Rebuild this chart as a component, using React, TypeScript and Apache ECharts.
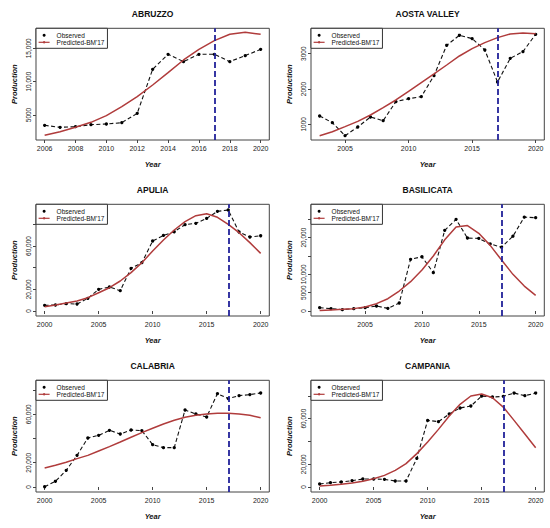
import React, { useEffect, useRef } from "react";
import * as echarts from "echarts";

const FONT = "'Liberation Sans', Arial, sans-serif";

// ---------- data ----------
const abruzzoYears = [2006, 2007, 2008, 2009, 2010, 2011, 2012, 2013, 2014, 2015, 2016, 2017, 2018, 2019, 2020];
const abruzzoObserved = [3450, 3150, 3250, 3550, 3650, 3850, 5250, 11850, 14100, 13000, 14100, 14100, 13000, 13900, 14850];
const abruzzoPredicted = [1950, 2500, 3150, 3900, 4900, 6250, 7750, 9500, 11350, 13250, 14850, 16150, 17100, 17400, 17100];

const aostaYears = [2003, 2004, 2005, 2006, 2007, 2008, 2009, 2010, 2011, 2012, 2013, 2014, 2015, 2016, 2017, 2018, 2019, 2020];
const aostaObserved = [1236, 1047, 679, 925, 1208, 1104, 1642, 1726, 1783, 2377, 3236, 3519, 3425, 3104, 2198, 2868, 3057, 3547];
const aostaPredicted = [679, 792, 934, 1085, 1264, 1472, 1689, 1934, 2179, 2425, 2679, 2934, 3142, 3311, 3453, 3557, 3585, 3566];

const apuliaYears = [2000, 2001, 2002, 2003, 2004, 2005, 2006, 2007, 2008, 2009, 2010, 2011, 2012, 2013, 2014, 2015, 2016, 2017, 2018, 2019, 2020];
const apuliaObserved = [5230, 5540, 6770, 6460, 11700, 20000, 22150, 18770, 39400, 44600, 64600, 69800, 73200, 79700, 80900, 85500, 92000, 93200, 72900, 68300, 69500];
const apuliaPredicted = [4000, 5540, 7400, 9230, 12300, 16900, 21500, 27700, 35400, 44600, 55400, 65500, 74800, 82500, 88000, 89800, 86500, 80000, 72300, 63100, 53200];

const basilicataYears = [2001, 2002, 2003, 2004, 2005, 2006, 2007, 2008, 2009, 2010, 2011, 2012, 2013, 2014, 2015, 2016, 2017, 2018, 2019, 2020];
const basilicataObserved = [909, 636, 364, 636, 909, 1364, 727, 2180, 14100, 14800, 10450, 22000, 25000, 19900, 19800, 18300, 17400, 20400, 25600, 25450];
const basilicataPredicted = [150, 300, 450, 650, 1100, 2000, 3360, 5450, 8000, 11200, 15000, 19400, 22900, 23300, 21200, 17900, 13900, 10000, 6800, 4270];

const calabriaYears = [2000, 2001, 2002, 2003, 2004, 2005, 2006, 2007, 2008, 2009, 2010, 2011, 2012, 2013, 2014, 2015, 2016, 2017, 2018, 2019, 2020];
const calabriaObserved = [200, 4700, 13750, 26100, 40400, 42600, 46750, 43700, 47000, 46500, 34900, 32450, 32450, 63500, 60200, 57750, 77000, 72900, 75350, 76200, 77550];
const calabriaPredicted = [15700, 17900, 20350, 23400, 26100, 29700, 33300, 37100, 41000, 44800, 48400, 52000, 55000, 57500, 59100, 60200, 60800, 60800, 60200, 59100, 57200];

const campaniaYears = [2000, 2001, 2002, 2003, 2004, 2005, 2006, 2007, 2008, 2009, 2010, 2011, 2012, 2013, 2014, 2015, 2016, 2017, 2018, 2019, 2020];
const campaniaObserved = [2630, 3800, 4390, 5560, 7020, 7020, 6730, 5270, 5270, 25200, 58500, 57400, 64100, 69400, 71100, 79900, 79000, 79600, 82500, 80200, 82500];
const campaniaPredicted = [880, 1460, 2340, 3500, 5000, 7300, 10200, 14600, 20500, 29300, 39500, 50600, 62300, 72600, 79900, 81700, 78400, 70200, 58500, 46500, 34500];

const splitYear = 2017;

const titles = ["ABRUZZO", "AOSTA VALLEY", "APULIA", "BASILICATA", "CALABRIA", "CAMPANIA"];
const xTicks2 = [2006, 2008, 2010, 2012, 2014, 2016, 2018, 2020];
const xTicks5a = [2005, 2010, 2015, 2020];
const xTicks5b = [2000, 2005, 2010, 2015, 2020];
const yTicksAbruzzo = [5000, 10000, 15000];
const yTicksAosta = [1000, 2000, 3000];
const yTicks20k = [0, 20000, 40000, 60000, 80000];
const yLabels20k = [0, 20000, 60000];
const yTicksBasilicata = [0, 5000, 10000, 15000, 20000, 25000];
const yLabelsBasilicata = [0, 5000, 10000, 20000];

// axis extents
const xRanges = [
  [2005.44, 2020.56],
  [2002.32, 2020.68],
  [1999.2, 2020.8],
  [2000.24, 2020.76],
  [1999.2, 2020.8],
  [1999.2, 2020.8],
];
const yRanges = [
  [1250, 18000],
  [557, 3717],
  [-4600, 98500],
  [-1360, 29100],
  [-4125, 88000],
  [-4390, 93700],
];

const panels = [
  { years: abruzzoYears, obs: abruzzoObserved, pred: abruzzoPredicted, xt: xTicks2, yt: yTicksAbruzzo, yl: yTicksAbruzzo },
  { years: aostaYears, obs: aostaObserved, pred: aostaPredicted, xt: xTicks5a, yt: yTicksAosta, yl: yTicksAosta },
  { years: apuliaYears, obs: apuliaObserved, pred: apuliaPredicted, xt: xTicks5b, yt: yTicks20k, yl: yLabels20k },
  { years: basilicataYears, obs: basilicataObserved, pred: basilicataPredicted, xt: xTicks5a, yt: yTicksBasilicata, yl: yLabelsBasilicata },
  { years: calabriaYears, obs: calabriaObserved, pred: calabriaPredicted, xt: xTicks5b, yt: yTicks20k, yl: yLabels20k },
  { years: campaniaYears, obs: campaniaObserved, pred: campaniaPredicted, xt: xTicks5b, yt: yTicks20k, yl: yLabels20k },
];

// layout
const colLeft = [36, 311];
const rowTop = [28.3, 204.3, 380.3];
const plotW = 233.3;
const plotH = 111.7;

const PRED_COLOR = "#b03c3c";
const VLINE_COLOR = "#22229a";
const AXIS_COLOR = "#444";

function fmt(v: number) {
  return v >= 10000 ? v.toLocaleString("en-US") : String(v);
}

function buildOption() {
  const grid: any[] = [];
  const xAxis: any[] = [];
  const yAxis: any[] = [];
  const series: any[] = [];
  const title: any[] = [];
  const legend: any[] = [];

  panels.forEach((p, i) => {
    const left = colLeft[i % 2];
    const top = rowTop[Math.floor(i / 2)];
    grid.push({
      left,
      top,
      width: plotW,
      height: plotH,
      show: true,
      borderColor: AXIS_COLOR,
      borderWidth: 1,
      backgroundColor: "transparent",
      containLabel: false,
    });
    xAxis.push({
      type: "value",
      gridIndex: i,
      min: xRanges[i][0],
      max: xRanges[i][1],
      axisLine: { show: false },
      splitLine: { show: false },
      axisTick: {
        show: true,
        length: 3,
        customValues: p.xt,
        lineStyle: { color: AXIS_COLOR, width: 1 },
      },
      axisLabel: {
        customValues: p.xt,
        formatter: (v: number) => String(v),
        fontSize: 7,
        fontFamily: FONT,
        color: "#222",
        margin: 5,
      },
      name: "Year",
      nameLocation: "middle",
      nameGap: 20,
      nameTextStyle: { fontSize: 7.5, fontWeight: "bold", fontStyle: "italic", fontFamily: FONT, color: "#111" },
    });
    yAxis.push({
      type: "value",
      gridIndex: i,
      min: yRanges[i][0],
      max: yRanges[i][1],
      axisLine: { show: false },
      splitLine: { show: false },
      axisTick: {
        show: true,
        length: 3,
        customValues: p.yt,
        lineStyle: { color: AXIS_COLOR, width: 1 },
      },
      axisLabel: {
        customValues: p.yl,
        formatter: (v: number) => fmt(v),
        rotate: 90,
        fontSize: 6.5,
        fontFamily: FONT,
        color: "#222",
        margin: 4,
      },
      name: "Production",
      nameLocation: "middle",
      nameGap: 18,
      nameRotate: 90,
      nameTextStyle: { fontSize: 7.5, fontWeight: "bold", fontStyle: "italic", fontFamily: FONT, color: "#111" },
    });
    series.push({
      type: "line",
      name: "Observed",
      xAxisIndex: i,
      yAxisIndex: i,
      data: p.years.map((y, k) => [y, p.obs[k]]),
      symbol: "circle",
      symbolSize: 3.3,
      showSymbol: true,
      itemStyle: { color: "#000" },
      lineStyle: { color: "#111", width: 1.1, type: [4, 2.5] },
      z: 3,
    });
    series.push({
      type: "line",
      name: "Predicted-BM'17",
      xAxisIndex: i,
      yAxisIndex: i,
      data: p.years.map((y, k) => [y, p.pred[k]]),
      symbol: "none",
      itemStyle: { color: PRED_COLOR },
      lineStyle: { color: PRED_COLOR, width: 1.5 },
      z: 4,
      markLine: {
        silent: true,
        symbol: ["none", "none"],
        label: { show: false },
        lineStyle: { color: VLINE_COLOR, width: 1.8, type: [6, 3] },
        data: [{ xAxis: splitYear }],
      },
    });
    title.push({
      text: titles[i],
      left: left + plotW / 2,
      top: top - 18.5,
      textAlign: "center",
      padding: 0,
      textStyle: { fontSize: 8.5, fontWeight: "bold", fontFamily: FONT, color: "#111" },
    });
    legend.push({
      left: left,
      top: top,
      orient: "vertical",
      selectedMode: false,
      data: [{ name: "Observed", icon: "circle" }, { name: "Predicted-BM'17" }],
      itemWidth: 11,
      itemHeight: 3,
      itemGap: 0,
      padding: [3.5, 3, 2.5, 2],
      borderColor: "#333",
      borderWidth: 1,
      backgroundColor: "#fff",
      lineStyle: { width: 1.2 },
      textStyle: { fontSize: 6.5, lineHeight: 6, fontFamily: FONT, color: "#111", padding: [0, 0, 0, 2] },
    });
  });

  return {
    animation: false,
    backgroundColor: "#fff",
    title,
    legend,
    grid,
    xAxis,
    yAxis,
    series,
  };
}

export default function App() {
  const ref = useRef<HTMLDivElement>(null);
  useEffect(() => {
    if (!ref.current) return;
    const chart = echarts.init(ref.current, undefined, { renderer: "svg" });
    chart.setOption(buildOption() as any);
    return () => chart.dispose();
  }, []);
  return (
    <div
      ref={ref}
      style={{ position: "fixed", left: 0, top: 0, width: 550, height: 528, background: "#fff" }}
    />
  );
}
